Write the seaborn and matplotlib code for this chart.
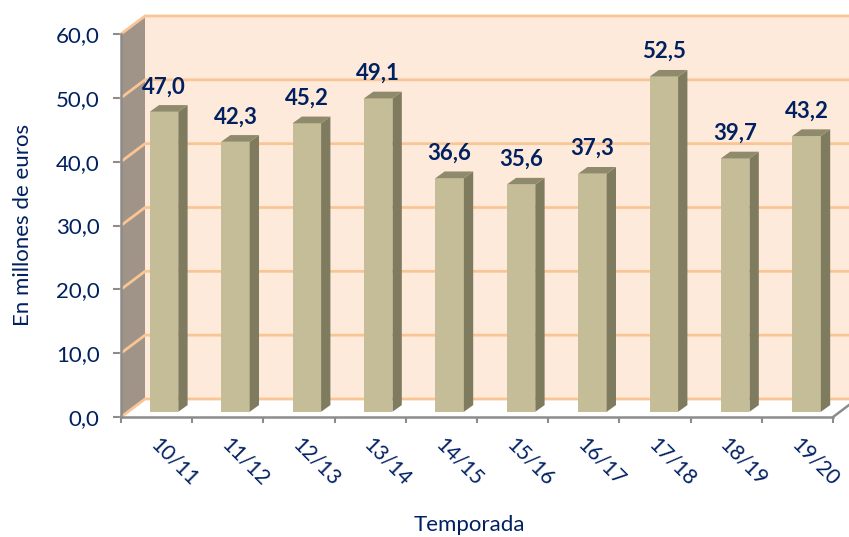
import matplotlib
matplotlib.use("Agg")
import matplotlib.pyplot as plt
import seaborn as sns
from matplotlib.patches import Polygon
from matplotlib.transforms import Affine2D

seasons = ["10/11", "11/12", "12/13", "13/14", "14/15", "15/16", "16/17", "17/18", "18/19", "19/20"]
values = [47.0, 42.3, 45.2, 49.1, 36.6, 35.6, 37.3, 52.5, 39.7, 43.2]
y_ticks = [0, 10, 20, 30, 40, 50, 60]

sns.set_style("white")
plt.rcParams["font.family"] = ["Lato", "DejaVu Sans"]

NAVY = "#002060"
GRID = "#FAC595"
WALL = "#FEEADB"
SIDE_WALL = "#A09488"
AXIS = "#8C8C8C"
FRONT = "#C4BD97"
SIDE = "#7F7B5F"
TOP = "#8F8A6B"

W, H = 849, 537
fig = plt.figure(figsize=(W / 100, H / 100), dpi=100)
ax = fig.add_axes([121 / W, (H - 417) / H, 712 / W, 383 / H])

PX_X = 71.2   # pixels per category
PX_Y = 383 / 60  # pixels per value unit
wall_dx, wall_dy = 24 / PX_X, 18 / PX_Y
bar_dy = 5.2 / PX_Y
side_dx, side_dy = 9.3 / PX_X, 6.7 / PX_Y

sns.barplot(x=seasons, y=values, color=FRONT, saturation=1, width=0.4, ax=ax, zorder=3,
            edgecolor="none", linewidth=0)
ax.set_xlim(-0.5, 9.5)
ax.set_ylim(0, 60)

L, R = -0.5, 9.5
# back wall and left wall
ax.add_patch(Polygon([(L + wall_dx, wall_dy), (R + wall_dx, wall_dy),
                      (R + wall_dx, 60 + wall_dy), (L + wall_dx, 60 + wall_dy)],
                     closed=True, fc=WALL, ec="none", zorder=0, clip_on=False))
ax.add_patch(Polygon([(L, 0), (L + wall_dx, wall_dy), (L + wall_dx, 60 + wall_dy), (L, 60)],
                     closed=True, fc=SIDE_WALL, ec="none", zorder=0.5, clip_on=False))
for t in y_ticks:
    ax.plot([L, L + wall_dx, R + wall_dx], [t, t + wall_dy, t + wall_dy],
            color=GRID, lw=2.0, zorder=1, clip_on=False, solid_joinstyle="miter")
# floor edge on the right
ax.plot([R, R + wall_dx], [0, wall_dy], color=AXIS, lw=1.8, zorder=1, clip_on=False)

# 3D faces of the bars (bars sit slightly inside the depth of the box)
tr = Affine2D().scale(1.0028, 1).translate(0.104, bar_dy) + ax.transData
for patch, val in zip(ax.patches[:len(values)], values):
    patch.set_transform(tr)
    patch.set_clip_on(False)
    x0 = patch.get_x()
    x1 = x0 + patch.get_width()
    h = patch.get_height()
    ax.add_patch(Polygon([(x1, 0), (x1 + side_dx, side_dy), (x1 + side_dx, h + side_dy), (x1, h)],
                         closed=True, fc=SIDE, ec="none", zorder=3, transform=tr, clip_on=False))
    ax.add_patch(Polygon([(x0, h), (x1, h), (x1 + side_dx, h + side_dy), (x0 + side_dx, h + side_dy)],
                         closed=True, fc=TOP, ec="none", zorder=3, transform=tr, clip_on=False))
    ax.annotate(f"{val:.1f}".replace(".", ","), xy=((x0 + x1) / 2, h), xycoords=tr,
                xytext=(0, 18), textcoords="offset points", ha="center", va="center",
                color=NAVY, fontsize=16, fontweight="bold", zorder=5, annotation_clip=False)

# axes
for s in ["top", "right"]:
    ax.spines[s].set_visible(False)
for s in ["left", "bottom"]:
    ax.spines[s].set_color(AXIS)
    ax.spines[s].set_linewidth(1.8)
    ax.spines[s].set_zorder(2)

ax.set_yticks(y_ticks, [f"{t:.1f}".replace(".", ",") for t in y_ticks])
ax.tick_params(axis="y", left=True, length=6, width=1.5, color=AXIS, pad=9.5,
               labelsize=16, labelcolor=NAVY)

ax.set_xticks([i - 0.04 for i in range(len(seasons))], seasons)
ax.tick_params(axis="x", which="major", bottom=False, pad=14, labelsize=15, labelcolor=NAVY)
for lab in ax.get_xticklabels():
    lab.set_rotation(-45)
    lab.set_rotation_mode("anchor")
    lab.set_ha("left")
    lab.set_va("center")
ax.set_xticks([i - 0.5 for i in range(len(seasons) + 1)], minor=True)
ax.tick_params(axis="x", which="minor", bottom=True, length=4.5, width=1.5, color=AXIS)

ax.set_xlabel("Temporada", fontsize=16, color=NAVY)
ax.set_ylabel("En millones de euros", fontsize=16, color=NAVY)
ax.xaxis.set_label_coords((469 - 121) / 712, -(515 - 417) / 383)
ax.yaxis.set_label_coords((33 - 121) / 712, (417 - 225) / 383)

fig.savefig("out.png", dpi=100, facecolor="white")
